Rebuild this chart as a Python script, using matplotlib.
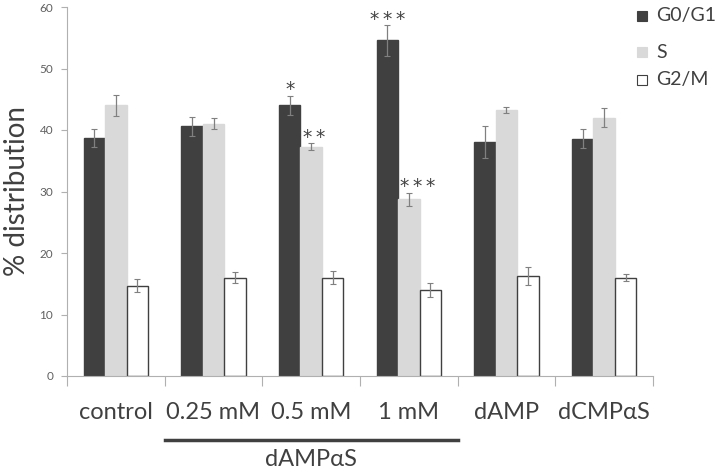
import numpy as np
import matplotlib.pyplot as plt
from matplotlib.patches import Rectangle

# data
categories = ["control", "0.25 mM", "0.5 mM", "1 mM", "dAMP", "dCMP\u03b1S"]
g0g1 = [38.7, 40.6, 44.0, 54.6, 38.0, 38.6]
g0g1_err = [1.5, 1.5, 1.6, 2.5, 2.6, 1.5]
s_phase = [44.0, 41.0, 37.3, 28.7, 43.3, 42.0]
s_err = [1.7, 0.9, 0.6, 1.1, 0.5, 1.5]
g2m = [14.7, 16.0, 16.0, 14.0, 16.3, 16.0]
g2m_err = [1.1, 0.9, 1.0, 1.1, 1.5, 0.55]

# significance marks: (group index, series index, label)
stars = [(2, 0, "*"), (2, 1, "**"), (3, 0, "***"), (3, 1, "***")]
star_nudge = [0.0, 0.03, 0.0, 0.09]  # small sideways shifts as in the original

FONT = ["Lato", "DejaVu Sans"]
plt.rcParams["font.family"] = FONT

fig = plt.figure(figsize=(7.2, 4.71), dpi=100)
ax = fig.add_axes([67 / 720, 1 - 376 / 471, (653 - 67) / 720, (376 - 7) / 471])

x = np.arange(len(categories))
w = 0.22
err_kw = dict(ecolor="#808080", elinewidth=0.9, capsize=2, capthick=0.8)

series = [
    (g0g1, g0g1_err, "#404040", "#404040", "G0/G1"),
    (s_phase, s_err, "#d9d9d9", "#d9d9d9", "S"),
    (g2m, g2m_err, "white", "#404040", "G2/M"),
]
for i, (vals, errs, fc, ec, lab) in enumerate(series):
    ax.bar(x + (i - 1) * w, vals, w, yerr=errs, color=fc, edgecolor=ec,
           linewidth=1.0, error_kw=err_kw, zorder=2)

all_vals = [g0g1, s_phase, g2m]
all_errs = [g0g1_err, s_err, g2m_err]
for (gi, si, lab), dx in zip(stars, star_nudge):
    top = all_vals[si][gi] + all_errs[si][gi]
    ax.text(x[gi] + (si - 1) * w + dx, top + 0.05, "\u2009".join(lab), ha="center",
            va="baseline", fontsize=13.5, color="#404040", family="DejaVu Sans")

ax.set_xlim(-0.5, len(categories) - 0.5)
ax.set_ylim(0, 60)
ax.set_yticks(range(0, 61, 10))
ax.tick_params(axis="y", labelsize=8.5, labelcolor="#606060", color="#b0b0b0",
               length=4, width=0.8, pad=6)

# x ticks at group boundaries, labels at group centres
ax.set_xticks(np.arange(-0.5, len(categories), 1.0))
ax.set_xticklabels([])
ax.tick_params(axis="x", color="#b0b0b0", length=7, width=0.8)
for xi, cat in zip(x, categories):
    ax.text(xi, -0.098, cat, transform=ax.get_xaxis_transform(), ha="center",
            va="center", fontsize=17, color="#404040", family=FONT)

for sp in ["top", "right"]:
    ax.spines[sp].set_visible(False)
for sp in ["left", "bottom"]:
    ax.spines[sp].set_color("#b0b0b0")
    ax.spines[sp].set_linewidth(0.8)

ax.set_ylabel("% distribution", fontsize=20, color="#404040", va="center")
ax.yaxis.set_label_coords(-0.086, 0.5)

# bracket under the dAMPaS doses
ax.plot([0.5, 3.5], [-0.173, -0.173], transform=ax.get_xaxis_transform(),
        color="#404040", linewidth=2.5, clip_on=False)
ax.text(2.0, -0.225, "dAMP\u03b1S", transform=ax.get_xaxis_transform(),
        ha="center", va="center", fontsize=17, color="#404040", family=FONT)

# legend drawn by hand (uneven row spacing in the original)
leg_rows = [16, 52, 80]
for (_, _, fc, ec, lab), yrow in zip(series, leg_rows):
    yf = 1 - yrow / 471
    fig.add_artist(Rectangle((637 / 720, yf - 5 / 471), 10 / 720, 10 / 471,
                             facecolor=fc, edgecolor=ec, linewidth=0.8,
                             transform=fig.transFigure))
    fig.text(656 / 720, yf, lab, ha="left", va="center", fontsize=14,
             color="#404040")

fig.savefig("out.png", dpi=100)
